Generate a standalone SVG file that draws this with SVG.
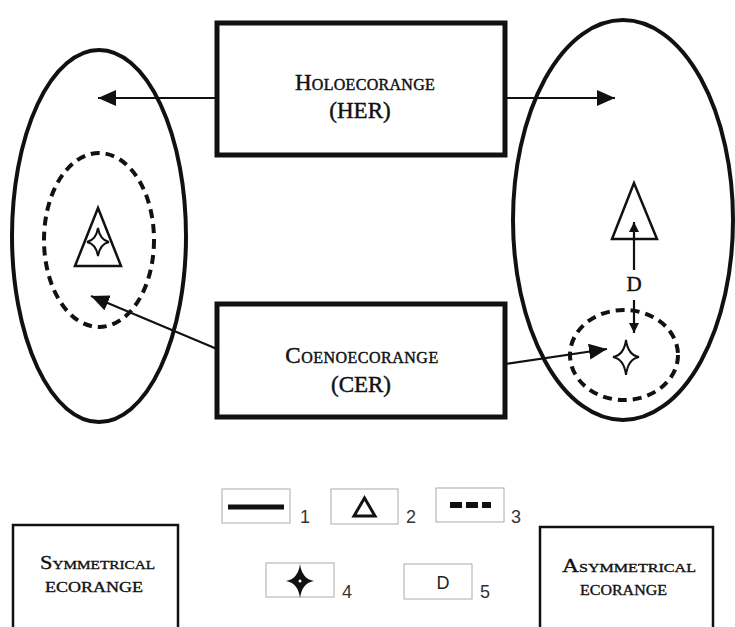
<svg xmlns="http://www.w3.org/2000/svg" width="735" height="627" viewBox="0 0 735 627">
<defs>
<style>
.ell{fill:none;stroke:#111;stroke-width:4}
.dash{fill:none;stroke:#111;stroke-width:4;stroke-dasharray:9 6}
.box{fill:#fff;stroke:#111;stroke-width:5}
.sbox{fill:#fff;stroke:#111;stroke-width:2.5}
.lbox{fill:#fff;stroke:#aaa;stroke-width:1}
.arr{fill:none;stroke:#111;stroke-width:2.2;marker-end:url(#ah)}
.darr{fill:none;stroke:#111;stroke-width:2.2;marker-end:url(#ahs)}
.tri{fill:#fff;stroke:#111;stroke-width:2.5;stroke-linejoin:miter}
.star{fill:#fff;stroke:#111;stroke-width:2}
.t{font-family:"Liberation Serif","Times New Roman",serif;font-variant:small-caps;fill:#111;stroke:#111;stroke-width:0.45;text-anchor:middle}
.num{font-family:"Liberation Sans",Arial,sans-serif;font-size:18px;fill:#333}
</style>
<marker id="ah" viewBox="0 0 18 16" refX="18" refY="8" markerWidth="18" markerHeight="16" markerUnits="userSpaceOnUse" orient="auto">
<path d="M0,0 L18,8 L0,16 Z" fill="#111"/>
</marker>
<marker id="ahs" viewBox="0 0 10 10" refX="10" refY="5" markerWidth="10" markerHeight="10" markerUnits="userSpaceOnUse" orient="auto">
<path d="M0,0 L10,5 L0,10 Z" fill="#111"/>
</marker>
</defs>
<rect width="735" height="627" fill="#fff"/>

<g id="left-ecorange">
<ellipse class="ell" cx="99" cy="236" rx="87" ry="186"/>
<ellipse class="dash" cx="99" cy="240" rx="55" ry="87"/>
<polygon class="tri" points="98,208 75,266 121,266"/>
<path class="star" d="M98,228 Q100,240 109,242 Q100,244 98,256 Q96,244 87,242 Q96,240 98,228 Z"/>
</g>

<g id="right-ecorange">
<ellipse class="ell" cx="623" cy="220" rx="110" ry="200"/>
<ellipse class="dash" cx="624" cy="355" rx="54" ry="45"/>
<polygon class="tri" points="634,183 612,239 657,239"/>
<path class="star" d="M626,340 Q628,355 639,357 Q628,359 626,375 Q624,359 613,357 Q624,355 626,340 Z"/>
<text x="634" y="291" class="t" style="font-size:21px;font-variant:normal">D</text>
</g>

<g id="holoecorange">
<rect class="box" x="217" y="23" width="288" height="132"/>
<text class="t" x="365" y="90" style="font-size:23px;letter-spacing:0.3px">Holoecorange</text>
<text class="t" x="360" y="118" style="font-size:23px">(HER)</text>
</g>

<g id="coenoecorange">
<rect class="box" x="217" y="304" width="288" height="113"/>
<text class="t" x="362" y="363" style="font-size:23px;letter-spacing:0.5px">Coenoecorange</text>
<text class="t" x="361" y="392" style="font-size:23px">(CER)</text>
</g>

<g id="connectors">
<line class="arr" x1="217" y1="98" x2="98" y2="98"/>
<line class="arr" x1="505" y1="98" x2="615" y2="98"/>
<line class="arr" x1="217" y1="349" x2="91" y2="296"/>
<line class="arr" x1="505" y1="364" x2="607" y2="349"/>
<line class="darr" x1="634" y1="270" x2="634" y2="222"/>
<line class="darr" x1="634" y1="300" x2="634" y2="333"/>
</g>

<g id="legend">
<rect class="lbox" x="222" y="489" width="68" height="34"/>
<line x1="228" y1="507" x2="284" y2="507" stroke="#111" stroke-width="5"/>
<text class="num" x="300" y="523">1</text>
<rect class="lbox" x="331" y="489" width="67" height="35"/>
<polygon points="364.5,498 354,516 375,516" fill="none" stroke="#111" stroke-width="3"/>
<text class="num" x="406" y="523">2</text>
<rect class="lbox" x="436" y="488" width="68" height="34"/>
<line x1="450" y1="505" x2="491" y2="505" stroke="#111" stroke-width="6" stroke-dasharray="12 4"/>
<text class="num" x="511" y="523">3</text>
<rect class="lbox" x="266" y="563" width="68" height="34"/>
<path d="M300,564 Q302,579 314,581 Q302,583 300,598 Q298,583 286,581 Q298,579 300,564 Z" fill="#111"/>
<circle cx="300" cy="581" r="1.5" fill="#fff"/>
<text class="num" x="342" y="598">4</text>
<rect class="lbox" x="404" y="564" width="68" height="35"/>
<text x="443" y="589" style="font-family:'Liberation Sans',Arial,sans-serif;font-size:18px;fill:#222;text-anchor:middle">D</text>
<text class="num" x="480" y="598">5</text>
</g>

<g id="symmetrical">
<rect class="sbox" x="13" y="525" width="165" height="110"/>
<text class="t" x="40" y="569" style="font-size:19px;text-anchor:start;stroke-width:0.35" textLength="115" lengthAdjust="spacingAndGlyphs">Symmetrical</text>
<text class="t" x="45" y="592" style="font-size:20px;text-anchor:start;stroke-width:0.35" textLength="98" lengthAdjust="spacingAndGlyphs">ecorange</text>
</g>

<g id="asymmetrical">
<rect class="sbox" x="540" y="527" width="173" height="110"/>
<text class="t" x="562" y="572" style="font-size:19px;text-anchor:start;stroke-width:0.35" textLength="134" lengthAdjust="spacingAndGlyphs">Asymmetrical</text>
<text class="t" x="580" y="595" style="font-size:20px;text-anchor:start;stroke-width:0.35" textLength="87" lengthAdjust="spacingAndGlyphs">ecorange</text>
</g>
</svg>
